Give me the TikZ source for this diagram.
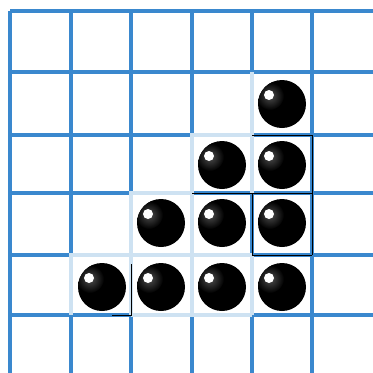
\documentclass[tikz,border=0pt]{standalone}
\definecolor{gridblue}{RGB}{58,136,206}
\definecolor{fade}{RGB}{206,226,242}
\tikzset{
  gridline/.style={draw=gridblue, line width=3.3pt},
  faded/.style={draw=fade, line width=3.7pt},
  blackedge/.style={draw=black, line width=1pt},
  ball/.style={fill=black},
  shine/.style={fill=white},
}
\begin{document}
\begin{tikzpicture}[x=1pt,y=-1pt]
\useasboundingbox (0,0) rectangle (373,373);
\fill[white] (0,0) rectangle (373,373);
% grid
\foreach \x in {10,71,131,192,252,312}
  \draw[gridline] (\x,11) -- (\x,373);
\foreach \y in {11,72,135,193,255,315}
  \draw[gridline] (10,\y) -- (373,\y);
% faded grid lines inside the ball region
\draw[faded] (252,72) -- (252,193);
\draw[faded] (252,135) -- (192,135) -- (192,193);
\draw[faded] (192,193) -- (131,193) -- (131,255);
\draw[faded] (131,255) -- (71,255) -- (71,315);
\draw[faded] (192,193) -- (192,315);
\draw[faded] (131,255) -- (131,315);
\draw[faded] (252,255) -- (252,315);
\draw[faded] (131,255) -- (252,255);
\draw[faded] (131,315) -- (252,315);
% black edges
\draw[blackedge] (252,135) -- (312,135) -- (312,255);
\draw[blackedge] (192,193) -- (312,193);
\draw[blackedge] (252,193) -- (252,255) -- (312,255);
\draw[blackedge] (131,264) -- (131,315) -- (112,315);
% balls
\foreach[count=\i] \cx/\cy in {282/104, 222/165, 282/165, 161/223, 222/223, 282/223, 102/287, 161/287, 222/287, 282/287}{
  \fill[ball] (\cx,\cy) coordinate (b\i) circle (24);
  \begin{scope}
    \clip (b\i) circle (24);
    \shade[inner color=black!70, outer color=black] ([shift={(-12,-8)}]b\i) circle (14);
  \end{scope}
  \fill[shine] ([shift={(-13,-9)}]b\i) circle (5);
}
\end{tikzpicture}
\end{document}
